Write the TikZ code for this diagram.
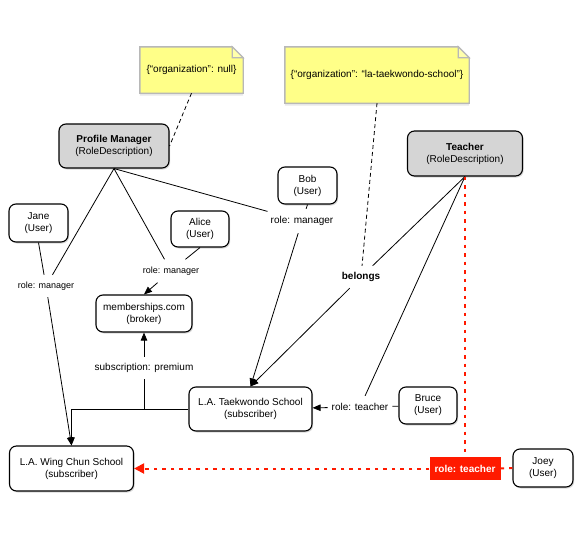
\documentclass[tikz,border=0pt]{standalone}
\usepackage{fontspec}
\setmainfont{Liberation Sans}
\usetikzlibrary{arrows.meta,shadows,calc,backgrounds}
\definecolor{rolegray}{HTML}{D5D5D5}
\definecolor{noteyellow}{HTML}{FFFF88}
\definecolor{noteedge}{HTML}{B8B8B8}
\definecolor{redline}{HTML}{FF1A00}
\begin{document}
\begin{tikzpicture}[x=1pt,y=-1pt,
  box/.style={draw, line width=1.1pt, rounded corners=7pt, fill=white, align=center,
    inner sep=0pt, font=\fontsize{10}{12}\selectfont,
    drop shadow={shadow xshift=1.2pt, shadow yshift=-1.5pt, opacity=0.3}},
  rolebox/.style={box, fill=rolegray},
  notetext/.style={inner sep=0pt, font=\fontsize{10}{12}\selectfont},
  lbl/.style={inner xsep=3pt, inner ysep=0pt, font=\fontsize{10}{12}\selectfont, minimum height=22pt},
  smalllbl/.style={lbl, font=\fontsize{9}{11}\selectfont},
  conn/.style={line width=0.8pt},
  arr/.style={conn, -{Triangle[length=8pt,width=6.5pt]}},
  dashconn/.style={conn, dash pattern=on 4pt off 3pt},
  reddot/.style={draw=redline, line width=2pt, dash pattern=on 3.5pt off 5pt},
  redtip/.style={-{Triangle[length=10pt,width=10pt]}},
  redlbl/.style={fill=redline, text=white, inner sep=0pt, font=\bfseries\fontsize{10}{12}\selectfont}
]
% notes (text nodes)
\node[notetext, minimum width=103pt, minimum height=46pt] (n1) at (191.5,70) {\{“organization”: null\}};
\node[notetext, minimum width=184pt, minimum height=56pt] (n2) at (377,75) {\{“organization”: “la-taekwondo-school”\}};
\begin{scope}[on background layer]
  \fill[white] (0,0) rectangle (576,536);
  \foreach \n in {n1,n2}{
    \path[draw=noteedge, line width=1.4pt, fill=noteyellow,
      drop shadow={shadow xshift=0pt, shadow yshift=-2.5pt, opacity=0.18}]
      (\n.north west) -- ($(\n.north east)+(-11,0)$) -- ($(\n.north east)+(0,11)$)
      -- (\n.south east) -- (\n.south west) -- cycle;
    \draw[noteedge, line width=1.2pt, fill=noteyellow!70!white]
      ($(\n.north east)+(-11,0)$) -- ($(\n.north east)+(-11,11)$) -- ($(\n.north east)+(0,11)$) -- cycle;
  }
\end{scope}

% boxes
\node[rolebox, minimum width=110pt, minimum height=44pt] (pm) at (114,146) {\textbf{Profile Manager}\\(RoleDescription)};
\node[rolebox, minimum width=115pt, minimum height=45pt] (teacher) at (465,153.5) {\textbf{Teacher}\\(RoleDescription)};
\node[box, minimum width=59pt, minimum height=38pt] (jane) at (38.5,223) {Jane\\(User)};
\node[box, minimum width=58pt, minimum height=36pt] (alice) at (200,229) {Alice\\(User)};
\node[box, minimum width=59pt, minimum height=37pt] (bob) at (307.5,185.5) {Bob\\(User)};
\node[box, minimum width=96pt, minimum height=37pt] (mb) at (144,313.5) {memberships.com\\(broker)};
\node[box, minimum width=123pt, minimum height=44pt] (tkd) at (250.5,409) {L.A. Taekwondo School\\(subscriber)};
\node[box, minimum width=124pt, minimum height=45pt] (wc) at (71.5,468.5) {L.A. Wing Chun School\\(subscriber)};
\node[box, minimum width=58pt, minimum height=37pt] (bruce) at (428,405.5) {Bruce\\(User)};
\node[box, minimum width=60pt, minimum height=38pt] (joey) at (543,468) {Joey\\(User)};

% labels
\node[smalllbl] (lj) at (46,286) {role: manager};
\node[smalllbl, minimum height=23pt] (la) at (171,271) {role: manager};
\node[lbl, minimum height=24pt] (lb) at (302,221) {role: manager};
\node[lbl, font=\bfseries\fontsize{10}{12}\selectfont] (bl) at (361,277) {belongs};
\node[lbl, inner xsep=4pt] (lt) at (360,407) {role: teacher};
\node[lbl] (ls) at (144,368) {subscription: premium};
\node[redlbl, minimum width=71pt, minimum height=23pt] (rt) at (465,468.5) {role: teacher};

% connectors
\draw[dashconn] (n1.south) -- (pm.east);
\draw[dashconn] (n2.south) -- (bl);
\draw[conn] (pm.south) -- (lj);
\draw[conn] (jane.south) -- (lj);
\draw[arr] (lj) -- (wc.north);
\draw[conn] (pm.south) -- (la);
\draw[conn] (alice.south) -- (la);
\draw[arr] (la) -- (mb.north);
\draw[conn] (pm.south) -- (lb);
\draw[conn] (bob.south) -- (lb);
\draw[arr] (lb) -- (tkd.north);
\draw[conn] (teacher.south) -- (bl);
\draw[arr] (bl) -- (tkd.north);
\draw[conn] (teacher.south) -- (lt);
\draw[conn] (bruce) -- (lt);
\draw[arr] (lt) -- (tkd);
\draw[arr] (ls) -- (mb.south);
\draw[conn] (ls) -- (ls |- tkd.west);
\draw[arr] (tkd.west) -| (wc.north);

\draw[reddot] (teacher.south) -- (rt.north);
\draw[reddot, redtip] (rt) -- (wc);
\draw[reddot] (rt) -- (joey);
\end{tikzpicture}
\end{document}
